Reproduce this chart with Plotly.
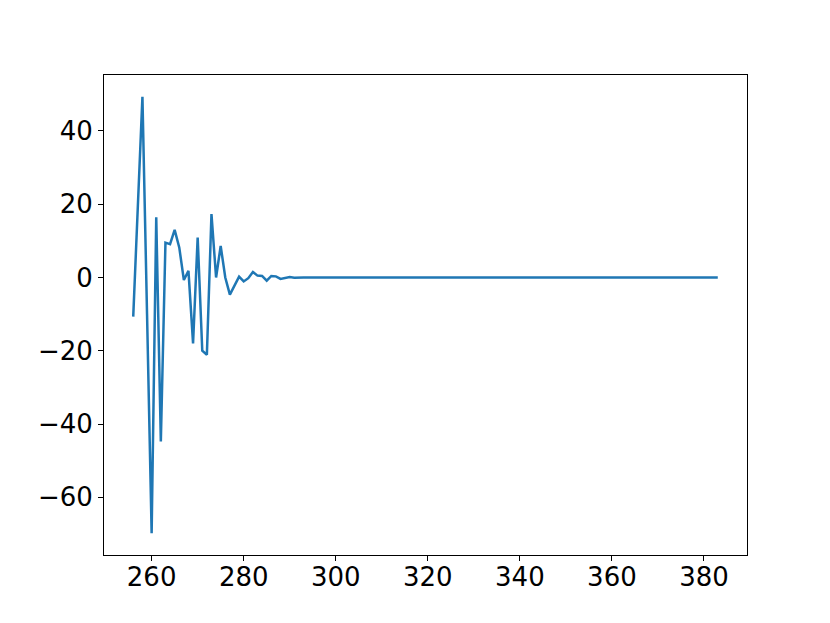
import plotly.graph_objects as go

x_start = 256
x_end = 383
head_values = [-10.7, 19.0, 49.3, -10.0, -69.8, 16.4, -44.8, 9.5, 9.1, 13.0,
               8.2, -0.7, 1.8, -18.0, 10.9, -20.0, -21.1, 17.3, 0.0, 8.6,
               0.0, -4.7, -2.3, 0.2, -1.1, -0.2, 1.5, 0.5, 0.4, -0.9,
               0.4, 0.3, -0.4, -0.1, 0.1, -0.05, 0.05, 0.0, -0.02, 0.02]
x_values = list(range(x_start, x_end + 1))
y_values = head_values + [0.0] * (len(x_values) - len(head_values))

xt = [260, 280, 300, 320, 340, 360, 380]
yt = [-60, -40, -20, 0, 20, 40]

def padded(lo, hi, frac=0.05):
    d = (hi - lo) * frac
    return [lo - d, hi + d]

fig = go.Figure(go.Scatter(x=x_values, y=y_values, mode="lines",
                           line=dict(color="#1f77b4", width=2.5)))
axis_common = dict(showline=True, linecolor="black", linewidth=1.1, mirror=True,
                   ticks="outside", ticklen=5, tickwidth=1.1, tickcolor="black",
                   showgrid=False, zeroline=False,
                   tickfont=dict(family="DejaVu Sans", size=26, color="black"))
fig.update_xaxes(range=padded(min(x_values), max(x_values)), tickvals=xt,
                 ticklabelstandoff=-6, **axis_common)
fig.update_yaxes(range=padded(min(y_values), max(y_values)), tickvals=yt, **axis_common)
fig.update_layout(width=830, height=623, plot_bgcolor="white", paper_bgcolor="white",
                  margin=dict(l=96, r=91, t=67, b=76, autoexpand=False), showlegend=False)
fig.write_html("out.html")
